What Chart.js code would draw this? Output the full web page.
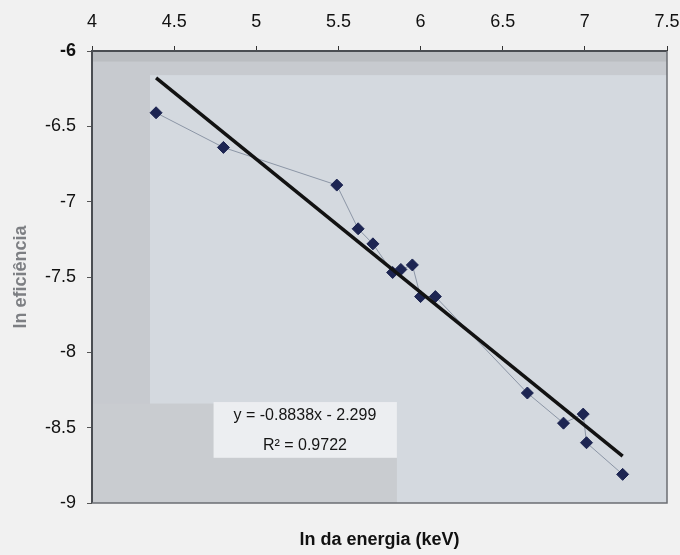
<!DOCTYPE html>
<html>
<head>
<meta charset="utf-8">
<script src="https://cdn.jsdelivr.net/npm/chart.js@4.4.1/dist/chart.umd.min.js"></script>
<style>
  html, body { margin: 0; padding: 0; background: #f1f1f1; }
  #wrap { width: 680px; height: 555px; }
</style>
</head>
<body>
<div id="wrap"><canvas id="c" width="680" height="555"></canvas></div>
<script>
// Measured points: ln of gamma energy (keV) vs ln of detector efficiency
const lnEnergy = [4.39, 4.80, 5.49, 5.62, 5.71, 5.83, 5.88, 5.95, 6.00, 6.09, 6.65, 6.87, 6.99, 7.01, 7.23];
const lnEfficiency = [-6.41, -6.64, -6.89, -7.18, -7.28, -7.47, -7.45, -7.42, -7.63, -7.63, -8.27, -8.47, -8.41, -8.60, -8.81];

// Axis ticks
const xTicks = [4, 4.5, 5, 5.5, 6, 6.5, 7, 7.5];
const yTicks = [-6, -6.5, -7, -7.5, -8, -8.5, -9];

// Linear trendline as printed on the chart
const slope = -0.8838;
const intercept = -2.299;
const rSquared = 0.9722;

const xTitle = 'ln da energia (keV)';
const yTitle = 'ln eficiência';
const eqLine1 = 'y = ' + slope.toFixed(4) + 'x - ' + Math.abs(intercept).toFixed(3);
const eqLine2 = 'R² = ' + rSquared.toFixed(4);

const FONT = '"Liberation Sans", Arial, sans-serif';

const points = lnEnergy.map((x, i) => ({ x: x, y: lnEfficiency[i] }));
const xMin = Math.min(...lnEnergy);
const xMax = Math.max(...lnEnergy);
const trend = [xMin, xMax].map(x => ({ x: x, y: slope * x + intercept }));

// Plot-area panels and frame, placed in data coordinates
const decor = {
  id: 'decor',
  beforeDraw(chart) {
    const { ctx, chartArea: a, scales: { x, y } } = chart;
    ctx.save();
    ctx.fillStyle = '#f1f1f1';
    ctx.fillRect(0, 0, chart.width, chart.height);
    // outer plot background
    ctx.fillStyle = '#c7cacf';
    ctx.fillRect(a.left, a.top, a.right - a.left, a.bottom - a.top);
    // inner lighter panel
    const px = v => x.getPixelForValue(v), py = v => y.getPixelForValue(v);
    ctx.fillStyle = '#d4d9df';
    ctx.fillRect(px(4.353), py(-6.16), a.right - px(4.353), a.bottom - py(-6.16));
    // darker lower-left corner
    ctx.fillStyle = '#c9ccd0';
    ctx.fillRect(a.left, py(-8.34), px(5.856) - a.left, a.bottom - py(-8.34));
    // darker band along the top
    ctx.fillStyle = '#babdc1';
    ctx.fillRect(a.left, a.top, a.right - a.left, py(-6.07) - a.top);
    ctx.restore();
  },
  beforeDatasetsDraw(chart) {
    const { ctx, chartArea: a } = chart;
    ctx.save();
    ctx.strokeStyle = '#4a4d52';
    ctx.lineWidth = 2;
    ctx.beginPath();
    ctx.moveTo(a.left, a.bottom);
    ctx.lineTo(a.left, a.top);
    ctx.lineTo(a.right, a.top);
    ctx.stroke();
    ctx.lineWidth = 1.5;
    ctx.strokeStyle = '#6b6e73';
    ctx.beginPath();
    ctx.moveTo(a.right, a.top);
    ctx.lineTo(a.right, a.bottom);
    ctx.lineTo(a.left, a.bottom);
    ctx.stroke();
    ctx.restore();
  },
  afterDatasetsDraw(chart) {
    const { ctx, scales: { x, y } } = chart;
    const px = v => x.getPixelForValue(v), py = v => y.getPixelForValue(v);
    ctx.save();
    // trendline label box
    ctx.fillStyle = '#eceef1';
    ctx.fillRect(px(4.74), py(-8.33), px(5.856) - px(4.74), py(-8.70) - py(-8.33));
    ctx.fillStyle = '#151515';
    ctx.font = '16px ' + FONT;
    ctx.textAlign = 'center';
    ctx.textBaseline = 'middle';
    ctx.fillText(eqLine1, px(5.296), py(-8.419));
    ctx.fillText(eqLine2, px(5.296), py(-8.618));
    ctx.restore();
  },
  afterDraw(chart) {
    const { ctx, chartArea: a } = chart;
    ctx.save();
    ctx.fillStyle = '#111';
    ctx.font = 'bold 18px ' + FONT;
    ctx.textAlign = 'center';
    ctx.textBaseline = 'middle';
    ctx.fillText(xTitle, (a.left + a.right) / 2, 540);
    ctx.translate(21, (a.top + a.bottom) / 2);
    ctx.rotate(-Math.PI / 2);
    ctx.fillStyle = '#7d7f83';
    ctx.fillText(yTitle, 0, 0);
    ctx.restore();
  }
};

new Chart(document.getElementById('c'), {
  type: 'scatter',
  data: {
    datasets: [
      {
        data: trend,
        showLine: true,
        borderColor: '#121212',
        borderWidth: 3.5,
        pointRadius: 0,
        order: 0
      },
      {
        data: points,
        showLine: true,
        borderColor: '#8c96a6',
        borderWidth: 1,
        pointStyle: 'rectRot',
        pointRadius: 6,
        pointBackgroundColor: '#1d2552',
        pointBorderColor: '#1d2552',
        order: 1
      }
    ]
  },
  options: {
    responsive: false,
    animation: false,
    devicePixelRatio: 1,
    layout: { padding: { left: 0, right: 13, top: 0, bottom: 52 } },
    plugins: { legend: { display: false }, tooltip: { enabled: false } },
    scales: {
      x: {
        type: 'linear',
        position: 'top',
        min: 4, max: 7.5,
        afterBuildTicks: s => { s.ticks = xTicks.map(v => ({ value: v })); },
        afterFit: s => { s.height = 51; s.paddingLeft = 0; s.paddingRight = 0; },
        ticks: {
          color: '#111',
          font: { family: FONT, size: 18 },
          padding: 13,
          maxRotation: 0,
          callback: v => String(v)
        },
        grid: { drawOnChartArea: false, drawTicks: true, tickLength: 5, color: '#333' },
        border: { display: false }
      },
      y: {
        type: 'linear',
        min: -9, max: -6,
        afterBuildTicks: s => { s.ticks = yTicks.map(v => ({ value: v })); },
        afterFit: s => { s.width = 92; s.paddingTop = 0; s.paddingBottom = 0; },
        ticks: {
          color: '#111',
          font: ctx => ({ family: FONT, size: 18, weight: ctx.tick && ctx.tick.value === -6 ? 'bold' : 'normal' }),
          padding: 11,
          callback: v => String(v)
        },
        grid: { drawOnChartArea: false, drawTicks: true, tickLength: 5, color: '#555' },
        border: { display: false }
      }
    }
  },
  plugins: [decor]
});
</script>
</body>
</html>
